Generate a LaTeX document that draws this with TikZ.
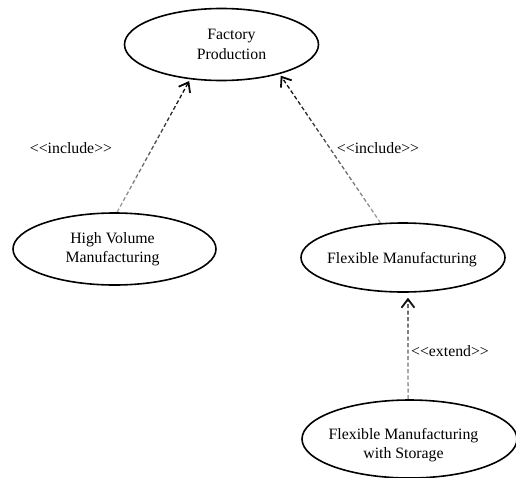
\documentclass[tikz,border=0pt]{standalone}
\usepackage{fontspec}
\setmainfont{Liberation Serif}
\usetikzlibrary{shapes.geometric,arrows.meta,fadings,calc}

% dashes stay dark near the arrow tip and fade towards the tail
\tikzfading[name=tailfade, top color=transparent!0, bottom color=transparent!65]

% guillemet-free stereotype brackets
\newcommand{\stereoname}[1]{<\kern0pt<#1>\kern0pt>}

\tikzset{
  usecase/.style={ellipse, draw=black, line width=1.6pt, inner sep=0pt},
  uctext/.style={font=\fontsize{15.8}{19.5}\selectfont, align=center},
  dep/.style={line width=1.3pt, dash pattern=on 4pt off 2.5pt,
    -{Straight Barb[length=8.5pt,width=13pt,line width=1.8pt]},
    shorten >=2pt, path fading=tailfade, fit fading=true},
  stereo/.style={font=\fontsize{15.8}{19.5}\selectfont, inner sep=0pt}
}

\begin{document}
\begin{tikzpicture}[x=1pt,y=-1pt]
  \useasboundingbox (0,0) rectangle (516,477);

  % use cases
  \node[usecase, minimum width=194pt, minimum height=72pt,
        label={[uctext, xshift=10pt]center:Factory\\Production}] (fp) at (221.5,44.5) {};
  \node[usecase, minimum width=203pt, minimum height=72pt,
        label={[uctext, xshift=-2pt]center:High Volume\\Manufacturing}] (hv) at (114.5,249) {};
  \node[usecase, minimum width=204pt, minimum height=69pt,
        label={[uctext, xshift=-1pt, yshift=-2pt]center:Flexible Manufacturing}] (flex) at (403,257.5) {};
  \node[usecase, minimum width=215pt, minimum height=78pt,
        label={[uctext, xshift=-6pt, yshift=-6pt]center:Flexible Manufacturing\\with Storage}] (store) at (409.5,439) {};

  % dependencies
  \draw[dep] (hv.86) -- (fp.228);
  \draw[dep] (flex.123) -- (fp.333);
  % the two leading move-tos widen the box the fading is fitted to
  \draw[dep, shorten >=5pt] ($(flex.278)+(-10,0)$) ($(flex.278)+(10,0)$)
        (store.92) -- (flex.278);

  % stereotypes
  \node[stereo] (inc1) at (71,148) {\stereoname{include}};
  \node[stereo] (inc2) at (378,148) {\stereoname{include}};
  \node[stereo] (ext) at (450,351) {\stereoname{extend}};
\end{tikzpicture}
\end{document}
